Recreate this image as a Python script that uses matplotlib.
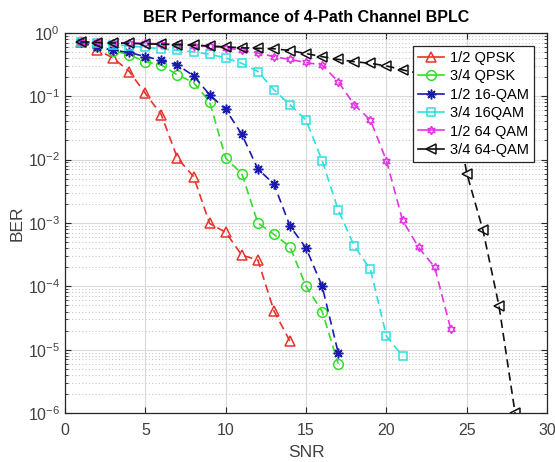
import numpy as np
import matplotlib
matplotlib.use("Agg")
import matplotlib.pyplot as plt
from matplotlib.ticker import FixedLocator, NullFormatter

plt.rcParams['font.family'] = ['Liberation Sans', 'DejaVu Sans']
plt.rcParams['mathtext.fontset'] = 'custom'
plt.rcParams['mathtext.rm'] = 'Liberation Sans'
plt.rcParams['mathtext.it'] = 'Liberation Sans'
plt.rcParams['mathtext.bf'] = 'Liberation Sans:bold'

# BER curves (SNR in dB)
snr_qpsk12 = np.arange(1, 15)
ber_qpsk12 = [0.72, 0.54, 0.40, 0.245, 0.111, 0.0506, 0.0105, 0.0054,
              0.00098, 0.00071, 0.00031, 0.00026, 4.1e-5, 1.35e-5]

snr_qpsk34 = np.arange(1, 18)
ber_qpsk34 = [0.72, 0.61, 0.525, 0.45, 0.35, 0.31, 0.217, 0.164, 0.082,
              0.0105, 0.006, 0.001, 0.00066, 0.00042, 0.0001, 4.0e-5, 6.0e-6]

snr_16qam12 = np.arange(1, 18)
ber_16qam12 = [0.72, 0.6, 0.53, 0.49, 0.42, 0.37, 0.31, 0.21, 0.105,
               0.062, 0.025, 0.0071, 0.0041, 0.00089, 0.0004, 0.0001, 8.9e-6]

snr_16qam34 = np.arange(1, 22)
ber_16qam34 = [0.72, 0.68, 0.65, 0.62, 0.59, 0.56, 0.53, 0.5, 0.46, 0.40,
               0.33, 0.245, 0.126, 0.073, 0.042, 0.0096, 0.0016, 0.00043,
               0.000185, 1.63e-5, 7.9e-6]

snr_64qam12 = np.arange(1, 25)
ber_64qam12 = [0.72, 0.71, 0.70, 0.69, 0.68, 0.67, 0.65, 0.63, 0.61, 0.58,
               0.53, 0.48, 0.42, 0.38, 0.34, 0.31, 0.17, 0.073, 0.042,
               0.0096, 0.0011, 0.00041, 0.0002, 2.1e-5]

snr_64qam34 = np.arange(1, 29)
ber_64qam34 = [0.72, 0.70, 0.69, 0.68, 0.67, 0.66, 0.65, 0.64, 0.62, 0.60,
               0.58, 0.57, 0.56, 0.525, 0.47, 0.42, 0.38, 0.35, 0.33, 0.30,
               0.26, 0.23, 0.19, 0.14, 0.006, 0.00077, 4.9e-5, 1.0e-6]

labels = ['1/2 QPSK', '3/4 QPSK', '1/2 16-QAM', '3/4 16QAM', '1/2 64 QAM', '3/4 64-QAM']
x_ticks = [0, 5, 10, 15, 20, 25, 30]
y_ticks = [1e-6, 1e-5, 1e-4, 1e-3, 1e-2, 1e-1, 1]

fig = plt.figure(figsize=(5.55, 4.62), dpi=100)
ax = fig.add_axes([0.117, 0.106, 0.869, 0.823])

asterisk = (8, 2, 0)
hexagram = (6, 1, 0)
curves = [
    (snr_qpsk12, ber_qpsk12, '#e8332b', '^', 7),
    (snr_qpsk34, ber_qpsk34, '#33dd2a', 'o', 7),
    (snr_16qam12, ber_16qam12, '#1a1ab0', asterisk, 7),
    (snr_16qam34, ber_16qam34, '#2fe0e0', 's', 5.5),
    (snr_64qam12, ber_64qam12, '#e633e6', hexagram, 6),
    (snr_64qam34, ber_64qam34, '#111111', '<', 7),
]
for (x, y, c, m, ms), lab in zip(curves, labels):
    ax.semilogy(x, y, linestyle='--', dashes=(5, 3), color=c, lw=1.2,
                marker=m, markersize=ms, markerfacecolor='none',
                markeredgecolor=c, markeredgewidth=1.1, label=lab)

ax.set_xlim(0, 30)
ax.set_ylim(1e-6, 1)
ax.set_xticks(x_ticks)
ax.set_yticks(y_ticks)
minor = [m * d for d in y_ticks[:-1] for m in range(2, 10)]
ax.yaxis.set_minor_locator(FixedLocator(minor))
ax.yaxis.set_minor_formatter(NullFormatter())

ax.grid(True, which='major', color='#d9d9d9', lw=0.8, linestyle='-')
ax.grid(True, which='minor', axis='y', color='#c8c8c8', lw=0.8, linestyle=(0, (1, 2)))
ax.set_axisbelow(True)

ax.tick_params(which='both', direction='in', top=True, right=True,
               labelsize=11.5, colors='#262626', labelcolor='#404040')
ax.tick_params(axis='x', pad=7)
ax.tick_params(which='major', length=4)
ax.tick_params(which='minor', length=2)
for s in ax.spines.values():
    s.set_color('#262626')
    s.set_linewidth(0.9)

ax.set_xlabel('SNR', fontsize=12.5, color='#404040', labelpad=5)
ax.set_ylabel('BER', fontsize=12.5, color='#404040', labelpad=2)
ax.set_title('BER Performance of 4-Path Channel BPLC', fontsize=11.5,
             fontweight='bold', pad=8)

leg = ax.legend(loc='upper right', fontsize=10.5, fancybox=False, framealpha=1,
                edgecolor='#262626', borderaxespad=0.9, handlelength=1.8,
                labelspacing=0.3, borderpad=0.35, handletextpad=0.4)
leg.get_frame().set_linewidth(0.9)
for line in leg.get_lines():
    line.set_linestyle('-')

fig.savefig('out.png', dpi=100)
